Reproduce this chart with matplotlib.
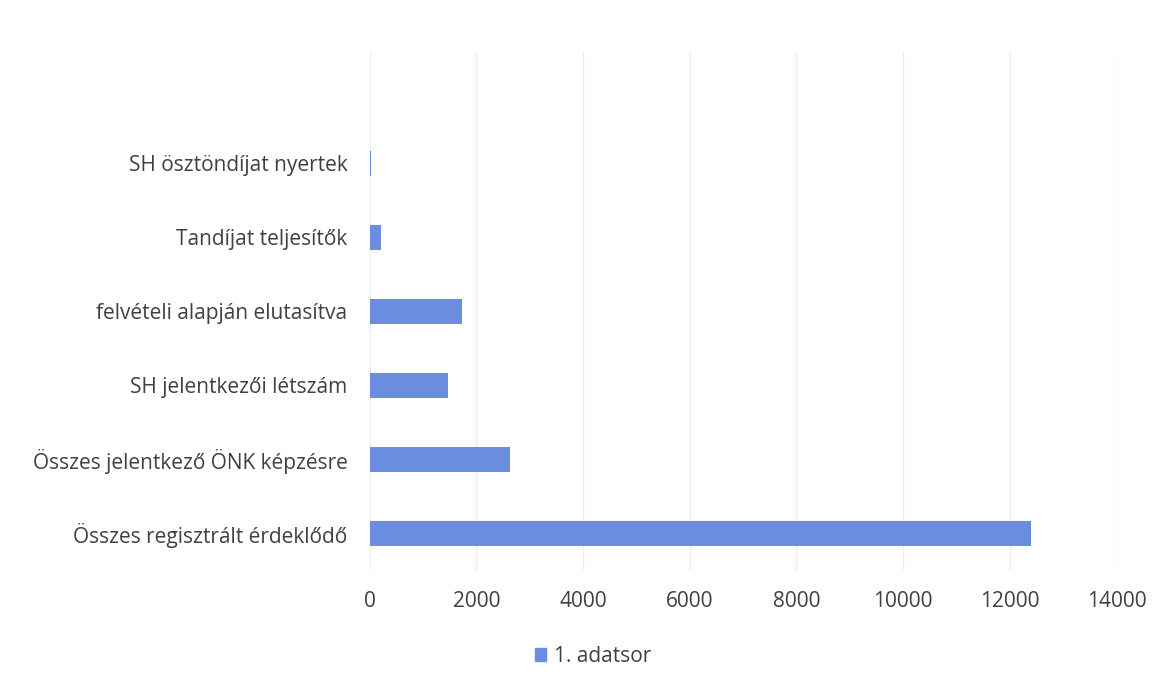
import matplotlib.pyplot as plt
from matplotlib.patches import Patch

# data (bottom to top)
categories = ["Összes regisztrált érdeklődő",
              "Összes jelentkező ÖNK képzésre",
              "SH jelentkezői létszám",
              "felvételi alapján elutasítva",
              "Tandíjat teljesítők",
              "SH ösztöndíjat nyertek"]
values = [12400, 2630, 1470, 1720, 200, 25]
x_ticks = [0, 2000, 4000, 6000, 8000, 10000, 12000, 14000]
series_name = "1. adatsor"

BAR_COLOR = "#6a8de0"
TEXT_COLOR = "#404040"

plt.rcParams["font.family"] = ["Open Sans", "DejaVu Sans"]

fig = plt.figure(figsize=(11.63, 6.79), dpi=100)
ax = fig.add_axes([0.318, 0.160, 0.642, 0.763])

ax.barh(range(len(categories)), values, height=0.34, color=BAR_COLOR, zorder=2)

ax.set_xlim(0, 14000)
ax.set_ylim(-0.5, len(categories) + 0.5)   # empty slot on top, like the original
ax.set_xticks(x_ticks)
ax.set_xticklabels([str(t) for t in x_ticks])
ax.set_yticks(range(len(categories)))
ax.set_yticklabels(categories)

ax.grid(axis="x", color="#ececec", linewidth=1, zorder=0)
ax.tick_params(axis="both", length=0, labelsize=15, colors=TEXT_COLOR)
ax.tick_params(axis="x", pad=15)
ax.tick_params(axis="y", pad=16)
for s in ax.spines.values():
    s.set_visible(False)

fig.legend(handles=[Patch(color=BAR_COLOR, label=series_name)],
           loc="center", bbox_to_anchor=(0.51, 0.033), frameon=False,
           fontsize=15, handlelength=0.55, handleheight=0.55, handletextpad=0.4,
           labelcolor=TEXT_COLOR)

fig.savefig("out.png", dpi=100)
